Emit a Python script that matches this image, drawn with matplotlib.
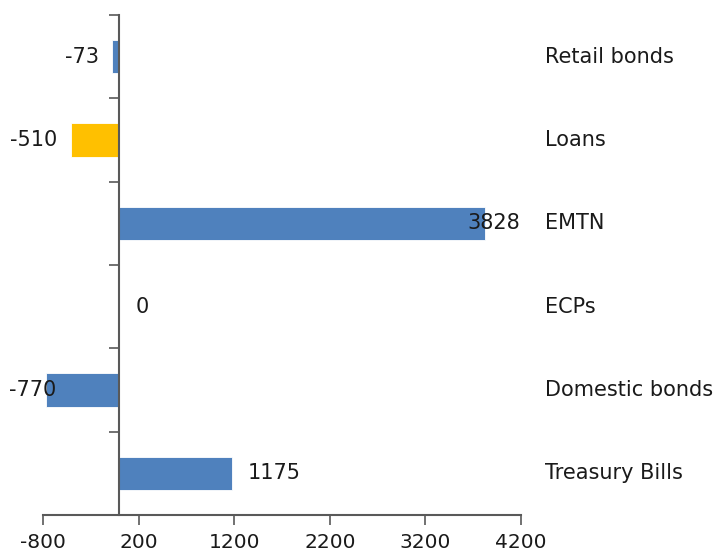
import numpy as np
import matplotlib.pyplot as plt

# Net issuance by instrument (top to bottom as shown)
categories = ['Retail bonds', 'Loans', 'EMTN', 'ECPs', 'Domestic bonds', 'Treasury Bills']
values = [-73, -510, 3828, 0, -770, 1175]
colors = ['#4F81BD', '#FFC000', '#4F81BD', '#4F81BD', '#4F81BD', '#4F81BD']
xticks = [-800, 200, 1200, 2200, 3200, 4200]

fig = plt.figure(figsize=(7.19, 5.51), dpi=100)
ax = fig.add_axes([0.0598, 0.0653, 0.6648, 0.9075])

n = len(categories)
y = np.arange(n)[::-1]
ax.barh(y, values, height=0.4, color=colors, edgecolor='white', linewidth=0.6)

ax.set_xlim(-800, 4200)
ax.set_ylim(-0.5, n - 0.5)
ax.set_xticks(xticks)
ax.set_xticklabels([str(t) for t in xticks], fontsize=14.5, color='#1a1a1a')
ax.set_yticks(np.arange(n) + 0.5)
ax.set_yticklabels([])
ax.tick_params(axis='y', direction='out', length=7, width=1.2, color='#595959')
ax.tick_params(axis='x', direction='out', length=7, width=1.2, color='#595959', pad=6)

for s in ['top', 'right']:
    ax.spines[s].set_visible(False)
ax.spines['left'].set_position(('data', 0))
for s in ['left', 'bottom']:
    ax.spines[s].set_color('#595959')
    ax.spines[s].set_linewidth(1.5)

# Category names to the right of the plot
for yi, name in zip(y, categories):
    ax.text(1.05, yi, name, transform=ax.get_yaxis_transform(), ha='left',
            va='center', fontsize=15, color='#1a1a1a')

# Value labels
for yi, v in zip(y, values):
    if v < 0:
        if v - 170 < -800:
            ax.annotate(str(v), xy=(0.013, yi), xycoords=('figure fraction', 'data'),
                        ha='left', va='center', fontsize=15, color='#1a1a1a')
        else:
            ax.annotate(str(v), xy=(v, yi), xytext=(-13, 0), textcoords='offset pixels',
                        ha='right', va='center', fontsize=15, color='#1a1a1a')
    elif v > 3500:
        ax.annotate(str(v), xy=(v, yi), xytext=(35, 0), textcoords='offset pixels',
                    ha='right', va='center', fontsize=15, color='#1a1a1a')
    else:
        ax.annotate(str(v), xy=(v, yi), xytext=(16, 0), textcoords='offset pixels',
                    ha='left', va='center', fontsize=15, color='#1a1a1a')

plt.savefig('out.png', dpi=100)
